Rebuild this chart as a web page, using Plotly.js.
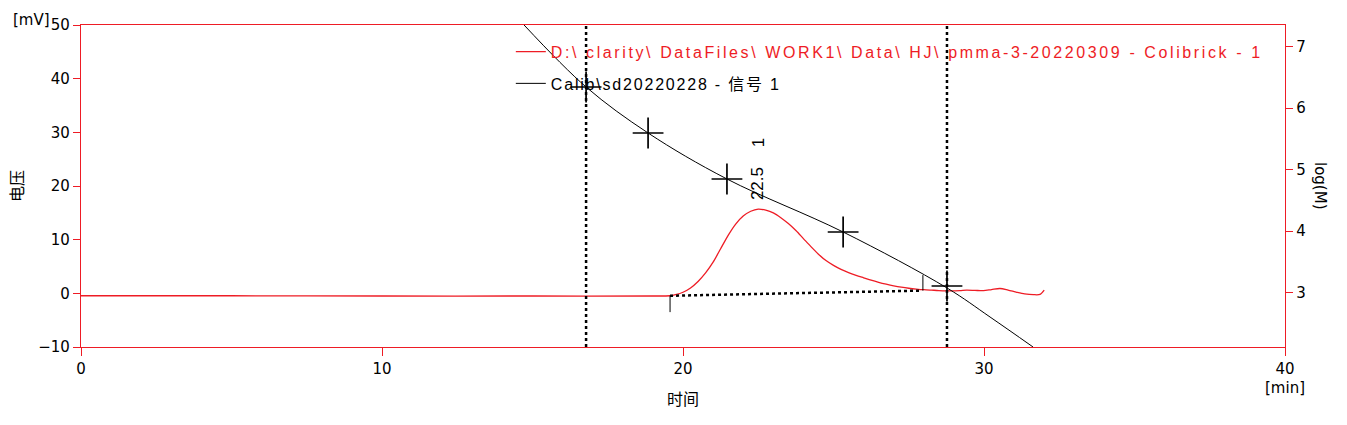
<!DOCTYPE html>
<html>
<head>
<meta charset="utf-8">
<script src="https://cdn.plot.ly/plotly-3.0.1.min.js"></script>
<style>html,body{margin:0;padding:0;background:#fff;}</style>
</head>
<body>
<div id="chart" style="width:1347px;height:425px;"></div>
<script>
// Chromatogram (mV vs min)
const sigTime = [0, 5, 10, 15, 19.0, 19.57, 19.75, 20.0, 20.25, 20.5, 20.75, 21.0, 21.25, 21.5, 21.75, 22.0, 22.25, 22.5, 22.75, 23.0, 23.25, 23.5, 23.75, 24.0, 24.25, 24.5, 24.75, 25.0, 25.25, 25.5, 25.75, 26.0, 26.25, 26.5, 26.75, 27.0, 27.25, 27.5, 27.75, 28.0, 28.25, 28.5, 28.9, 29.2, 29.42, 29.7, 29.98, 30.25, 30.53, 30.8, 31.09, 31.35, 31.64, 31.86, 32.0];
const sigMV   = [-0.45, -0.45, -0.5, -0.5, -0.5, -0.45, -0.25, 0.2, 1.0, 2.2, 3.8, 5.8, 8.3, 10.8, 12.9, 14.4, 15.3, 15.7, 15.5, 15.0, 14.1, 13.0, 11.7, 10.2, 8.7, 7.3, 6.1, 5.2, 4.45, 3.85, 3.35, 2.9, 2.45, 2.05, 1.7, 1.4, 1.15, 0.95, 0.8, 0.68, 0.6, 0.52, 0.45, 0.5, 0.6, 0.55, 0.5, 0.7, 0.9, 0.6, 0.2, -0.1, -0.25, -0.2, 0.6];

// Calibration curve log(M) vs min
const calTime = [14.72, 16.78, 18.84, 21.46, 25.32, 28.77, 30.20, 31.63];
const calLogM = [7.353, 6.345, 5.597, 4.849, 3.987, 3.077, 2.605, 2.117];
// Calibration standards (crosses)
const stdTime = [16.78, 18.84, 21.46, 25.32, 28.77];
const stdLogM = [6.345, 5.597, 4.849, 3.987, 3.109];

// Integration baseline and peak marks
const baseTime = [19.57, 27.87];
const baseMV = [-0.45, 0.5];
const peakStartT = 19.57, peakStartMV = [-0.45, -3.5];
const peakEndT = 27.97, peakEndMV = [0.5, 3.4];
const rangeMarks = [16.78, 28.77];
const peakRT = 22.5, peakLabel = "22.5", peakNum = "1";

const red = '#ee1c25';
const legendRed = 'D:\\ clarity\\ DataFiles\\ WORK1\\ Data\\ HJ\\ pmma-3-20220309 - Colibrick - 1';
const legendBlack = 'Calib\\sd20220228 - 信号 1';

const traces = [
  {x: sigTime, y: sigMV, type: 'scatter', mode: 'lines', line: {color: red, width: 1.3, shape: 'spline', smoothing: 0.8},
   name: '<span style="color:' + red + ';letter-spacing:2.6px">' + legendRed + '</span>', yaxis: 'y', legendgroup: 'a'},
  {x: calTime, y: calLogM, type: 'scatter', mode: 'lines', line: {color: '#000', width: 1, shape: 'spline'},
   name: '<span style="letter-spacing:1.8px">' + legendBlack + '</span>', yaxis: 'y2', legendgroup: 'b'},
  {x: stdTime, y: stdLogM, type: 'scatter', mode: 'markers', yaxis: 'y2', showlegend: false,
   marker: {symbol: 'cross-thin', size: 22, color: '#000', line: {color: '#000', width: 1.7}}},
  {x: baseTime, y: baseMV, type: 'scatter', mode: 'lines', showlegend: false,
   line: {color: '#000', width: 2.5, dash: 'dot'}},
  {x: [peakStartT, peakStartT], y: peakStartMV, type: 'scatter', mode: 'lines', showlegend: false,
   line: {color: '#000', width: 1}},
  {x: [peakEndT, peakEndT], y: peakEndMV, type: 'scatter', mode: 'lines', showlegend: false,
   line: {color: '#000', width: 1}}
];

const shapes = rangeMarks.map(t => ({type: 'line', xref: 'x', yref: 'paper', x0: t, x1: t, y0: 0, y1: 1,
  line: {color: '#000', width: 2.5, dash: 'dot'}}));

const tickFont = {family: 'DejaVu Sans, Verdana, sans-serif', size: 15, color: '#000'};
const cjkFont = {family: 'Noto Sans CJK SC, sans-serif', size: 16, color: '#000'};
const layout = {
  width: 1347, height: 425,
  margin: {l: 81, r: 62, t: 25, b: 78},
  paper_bgcolor: '#fff', plot_bgcolor: '#fff',
  showlegend: true,
  legend: {x: 0.357, xanchor: 'left', y: 0.97, yanchor: 'top', bgcolor: 'rgba(0,0,0,0)',
    tracegroupgap: 8,
    font: {family: 'Liberation Sans, Arial, Noto Sans CJK SC, sans-serif', size: 16, color: '#000'}},
  xaxis: {range: [0, 40], tickvals: [0, 10, 20, 30, 40], showgrid: false, zeroline: false,
    showline: true, linecolor: red, linewidth: 1.2, mirror: true,
    ticks: 'outside', ticklen: 8, tickcolor: red, tickfont: tickFont,
    title: {text: '时间', font: cjkFont, standoff: 16}},
  yaxis: {range: [-10, 50], tickvals: [-10, 0, 10, 20, 30, 40, 50], showgrid: false, zeroline: false,
    showline: true, linecolor: red, linewidth: 1.2, mirror: false,
    ticks: 'outside', ticklen: 7, tickcolor: red, tickfont: tickFont,
    title: {text: '电压', font: cjkFont, standoff: 10}},
  yaxis2: {overlaying: 'y', side: 'right', range: [2.117, 7.353], tickvals: [3, 4, 5, 6, 7],
    showgrid: false, zeroline: false, showline: true, linecolor: red, linewidth: 1.2,
    ticks: 'outside', ticklen: 7, tickcolor: red, tickfont: tickFont},
  shapes: shapes,
  annotations: [
    {text: peakLabel, x: peakRT, y: 20.4, xref: 'x', yref: 'y', textangle: -90, showarrow: false,
     font: {family: 'Liberation Sans, Arial, sans-serif', size: 17, color: '#000'}},
    {text: peakNum, x: peakRT, y: 28.0, xref: 'x', yref: 'y', textangle: -90, showarrow: false,
     font: {family: 'Liberation Sans, Arial, sans-serif', size: 17, color: '#000'}},
    {text: '[mV]', xref: 'paper', yref: 'paper', x: -0.0415, y: 1.0, xanchor: 'center', yanchor: 'bottom', yshift: -6,
     showarrow: false, font: {family: 'DejaVu Sans, sans-serif', size: 15, color: '#000'}},
    {text: '[min]', xref: 'paper', yref: 'paper', x: 1.0, y: 0, xanchor: 'center', yanchor: 'top', yshift: -30,
     showarrow: false, font: {family: 'DejaVu Sans, sans-serif', size: 15, color: '#000'}},
    {text: 'log(M)', xref: 'paper', yref: 'paper', x: 1.0, xshift: 35, y: 0.5, xanchor: 'center', yanchor: 'middle', textangle: 90,
     showarrow: false, font: {family: 'DejaVu Sans, sans-serif', size: 15, color: '#000'}}
  ]
};

Plotly.newPlot('chart', traces, layout, {staticPlot: true, displayModeBar: false});
</script>
</body>
</html>
